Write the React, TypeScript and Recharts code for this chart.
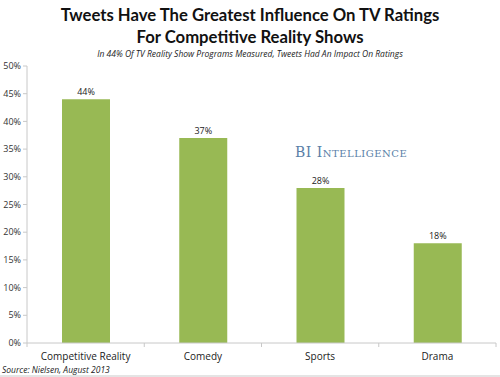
import { BarChart, Bar, XAxis, YAxis, LabelList } from 'recharts';

const categories = ['Competitive Reality', 'Comedy', 'Sports', 'Drama'];
const shares = [44, 37, 28, 18];
const yTicks = [0, 5, 10, 15, 20, 25, 30, 35, 40, 45, 50];

const data = categories.map((name, i) => ({ name, value: shares[i] }));

const FONT = '"Open Sans", "Noto Sans", sans-serif';
const AXIS = '#c8c8c8';

const CategoryTick = (props: any) => {
    const { x, y, payload, index } = props;
    const half = 469 / 4 / 2;
    return (
        <g>
            <line x1={x + half} y1={y - 8} x2={x + half} y2={y - 4} stroke={AXIS} />
            {index === 0 && <line x1={x - half} y1={y - 8} x2={x - half} y2={y - 4} stroke={AXIS} />}
            <text x={x} y={y + 9} textAnchor="middle" fontSize={10} fill="#222" fontFamily={FONT}>
                {payload.value}
            </text>
        </g>
    );
};

export default function App() {
    return (
        <div
            style={{
                position: 'absolute',
                left: 0,
                top: 0,
                width: 500,
                height: 377,
                background: '#fff',
                fontFamily: FONT,
                overflow: 'hidden',
            }}
        >
            <div
                style={{
                    position: 'absolute',
                    top: 4,
                    width: 500,
                    textAlign: 'center',
                    fontFamily: 'Lato, "Open Sans", sans-serif',
                    fontSize: 16.7,
                    fontWeight: 700,
                    lineHeight: '22px',
                    color: '#111',
                }}
            >
                Tweets Have The Greatest Influence On TV Ratings
                <br />
                For Competitive Reality Shows
            </div>
            <div
                style={{
                    position: 'absolute',
                    top: 48,
                    width: 500,
                    textAlign: 'center',
                    fontSize: 8.5,
                    fontStyle: 'italic',
                    color: '#222',
                }}
            >
                In 44% Of TV Reality Show Programs Measured, Tweets Had An Impact On Ratings
            </div>
            <div
                style={{
                    position: 'absolute',
                    left: 295,
                    top: 144,
                    fontFamily: '"DejaVu Serif", "Liberation Serif", serif',
                    fontVariant: 'small-caps',
                    fontSize: 14,
                    letterSpacing: 0.5,
                    color: '#5a7fa8',
                }}
            >
                BI Intelligence
            </div>
            <BarChart
                width={500}
                height={377}
                data={data}
                margin={{ top: 66, right: 4, bottom: 4, left: 0 }}
                barSize={48}
            >
                <XAxis
                    dataKey="name"
                    height={30}
                    axisLine={{ stroke: AXIS }}
                    tickLine={false}
                    tick={<CategoryTick />}
                    interval={0}
                />
                <YAxis
                    width={27}
                    domain={[0, 50]}
                    ticks={yTicks}
                    interval={0}
                    tickFormatter={(v) => `${v}%`}
                    axisLine={{ stroke: AXIS }}
                    tickLine={{ stroke: AXIS }}
                    tickSize={4}
                    tick={{ fontSize: 9, fill: '#333', fontFamily: FONT }}
                />
                <Bar dataKey="value" fill="#98b954" isAnimationActive={false}>
                    <LabelList
                        dataKey="value"
                        position="top"
                        offset={4}
                        formatter={(v: any) => `${v}%`}
                        style={{ fontSize: 9, fill: '#222', fontFamily: FONT }}
                    />
                </Bar>
            </BarChart>
            <div
                style={{
                    position: 'absolute',
                    left: 2,
                    top: 364,
                    fontSize: 8.5,
                    fontStyle: 'italic',
                    color: '#222',
                }}
            >
                Source: Nielsen, August 2013
            </div>
            <div style={{ position: 'absolute', left: 0, top: 375, width: 500, height: 2, background: '#e4e4e4' }} />
        </div>
    );
}
